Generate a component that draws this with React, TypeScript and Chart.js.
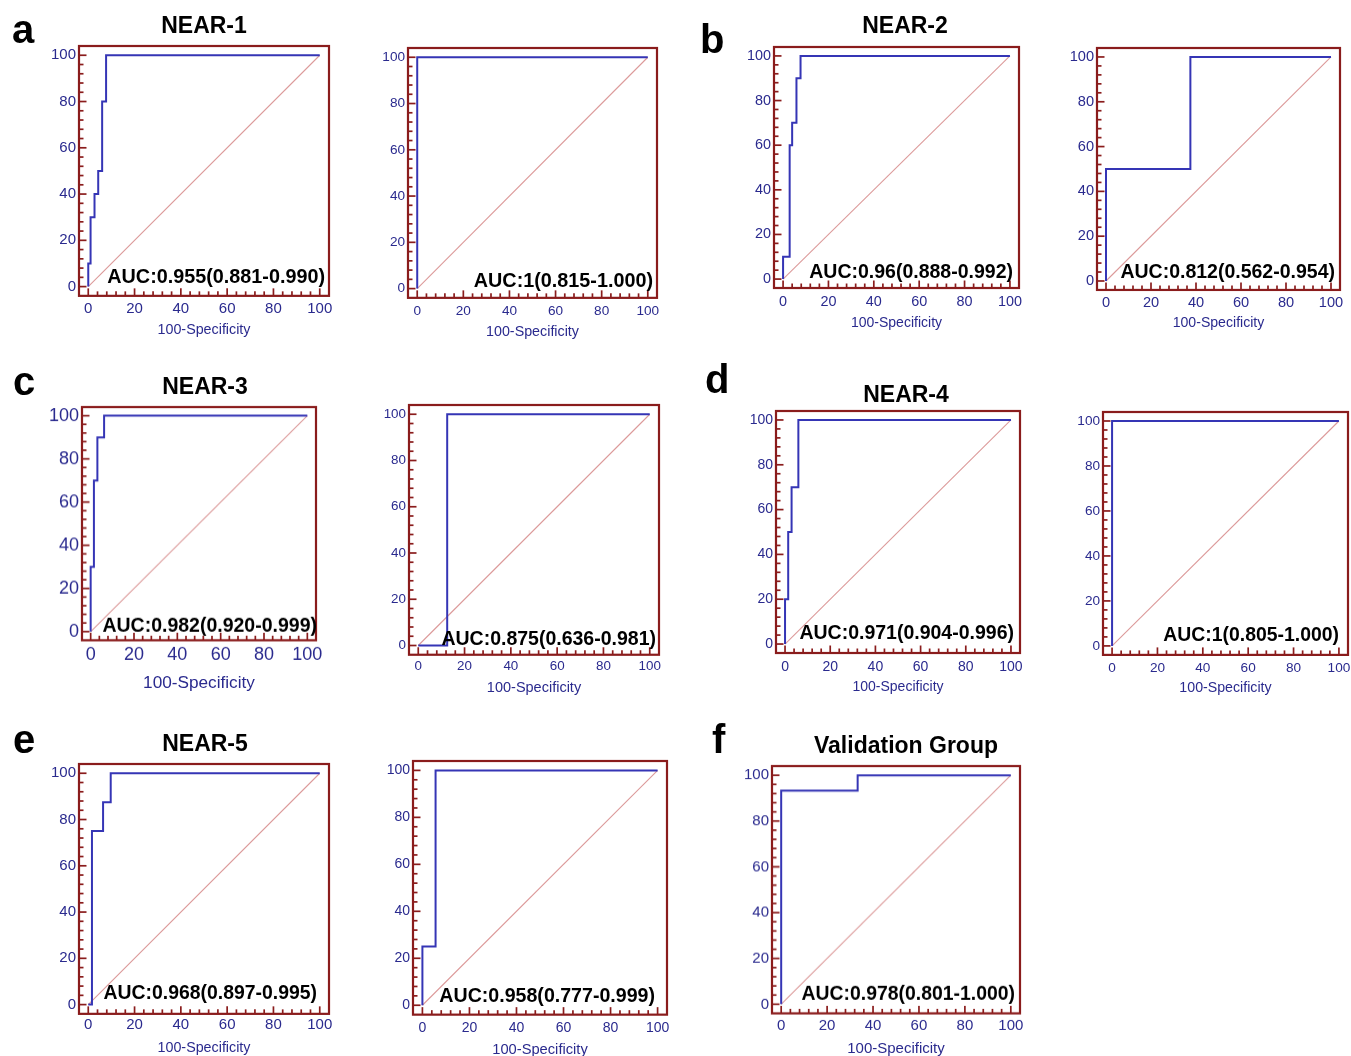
import React, { useEffect, useRef } from 'react';
import { Chart, registerables } from 'chart.js';

Chart.register(...registerables);

// ---------- shared values ----------
const tickValues = [0, 20, 40, 60, 80, 100];
const minorStep = 4;
const axisTitle = '100-Specificity';
const diagonalFpr = [0, 100];
const diagonalSens = [0, 100];

// ---------- ROC operating points (100-Specificity, Sensitivity) ----------
const near1TrainFpr = [0, 0, 1.0, 2.7, 4.3, 6.0, 7.7, 100];
const near1TrainSens = [0, 10, 30, 40, 50, 80, 100, 100];
const near1TestFpr = [0, 0, 100];
const near1TestSens = [0, 100, 100];

const near2TrainFpr = [0, 0, 2.9, 4.0, 5.9, 7.7, 100];
const near2TrainSens = [0, 10, 60, 70, 90, 100, 100];
const near2TestFpr = [0, 0, 37.5, 100];
const near2TestSens = [0, 50, 100, 100];

const near3TrainFpr = [0, 0, 1.5, 3.1, 6.2, 100];
const near3TrainSens = [0, 30, 70, 90, 100, 100];
const near3TestFpr = [0, 12.5, 100];
const near3TestSens = [0, 100, 100];

const near4TrainFpr = [0, 0, 1.4, 2.9, 5.9, 100];
const near4TrainSens = [0, 20, 50, 70, 100, 100];
const near4TestFpr = [0, 0, 100];
const near4TestSens = [0, 100, 100];

const near5TrainFpr = [0, 1.6, 6.4, 9.7, 100];
const near5TrainSens = [0, 75, 87.5, 100, 100];
const near5TestFpr = [0, 0, 5.6, 100];
const near5TestSens = [0, 25, 100, 100];

const validationFpr = [0, 0, 33.3, 100];
const validationSens = [0, 93.3, 100, 100];

const aucLabels = [
  'AUC:0.955(0.881-0.990)',
  'AUC:1(0.815-1.000)',
  'AUC:0.96(0.888-0.992)',
  'AUC:0.812(0.562-0.954)',
  'AUC:0.982(0.920-0.999)',
  'AUC:0.875(0.636-0.981)',
  'AUC:0.971(0.904-0.996)',
  'AUC:1(0.805-1.000)',
  'AUC:0.968(0.897-0.995)',
  'AUC:0.958(0.777-0.999)',
  'AUC:0.978(0.801-1.000)',
];

const panelTitles = ['NEAR-1', 'NEAR-2', 'NEAR-3', 'NEAR-4', 'NEAR-5', 'Validation Group'];
const panelLetters = ['a', 'b', 'c', 'd', 'e', 'f'];

// ---------- styles ----------
const FONT = '"Liberation Sans", Arial, Helvetica, sans-serif';
const NAVY = '#2a2a8e';
const ROC_BLUE = '#3535b5';
const FRAME_RED = '#8a1c1c';
const DIAG_PINK = '#dc9a9a';
const Y_AXIS_W = 60;
const PAD_TOP = 12;
const PAD_RIGHT = 20;

type PanelSpec = {
  fpr: number[]; sens: number[]; auc: string;
  L: number; T: number; R: number; B: number;
  tick: number; xLab: number; ttl: number; tOff: number;
  aucSize: number; dx: number; dy: number;
};

const panels: PanelSpec[] = [
  { fpr: near1TrainFpr, sens: near1TrainSens, auc: aucLabels[0], L: 79, T: 46, R: 329, B: 296, tick: 15, xLab: 13, ttl: 14.3, tOff: 34, aucSize: 19.8, dx: -4, dy: -13 },
  { fpr: near1TestFpr, sens: near1TestSens, auc: aucLabels[1], L: 408, T: 48, R: 657, B: 298, tick: 13.6, xLab: 13, ttl: 14.3, tOff: 34, aucSize: 19.8, dx: -4, dy: -11 },
  { fpr: near2TrainFpr, sens: near2TrainSens, auc: aucLabels[2], L: 774, T: 47, R: 1019, B: 288, tick: 14.4, xLab: 14, ttl: 14, tOff: 35, aucSize: 19.5, dx: -6, dy: -10 },
  { fpr: near2TestFpr, sens: near2TestSens, auc: aucLabels[3], L: 1097, T: 48, R: 1340, B: 290, tick: 14.6, xLab: 13, ttl: 14.1, tOff: 33, aucSize: 19.5, dx: -5, dy: -12 },
  { fpr: near3TrainFpr, sens: near3TrainSens, auc: aucLabels[4], L: 82, T: 407, R: 316, B: 640, tick: 18, xLab: 15, ttl: 17.2, tOff: 43, aucSize: 19.5, dx: 1, dy: -8 },
  { fpr: near3TestFpr, sens: near3TestSens, auc: aucLabels[5], L: 409, T: 405, R: 659, B: 655, tick: 13.4, xLab: 12, ttl: 14.5, tOff: 33, aucSize: 19.5, dx: -3, dy: -10 },
  { fpr: near4TrainFpr, sens: near4TrainSens, auc: aucLabels[6], L: 776, T: 411, R: 1020, B: 653, tick: 14, xLab: 14, ttl: 14, tOff: 34, aucSize: 19.5, dx: -6, dy: -14 },
  { fpr: near4TestFpr, sens: near4TestSens, auc: aucLabels[7], L: 1103, T: 412, R: 1348, B: 655, tick: 13.6, xLab: 13, ttl: 14.2, tOff: 33, aucSize: 19.4, dx: -9, dy: -14 },
  { fpr: near5TrainFpr, sens: near5TrainSens, auc: aucLabels[8], L: 79, T: 764, R: 329, B: 1014, tick: 15, xLab: 11, ttl: 14.3, tOff: 34, aucSize: 19.4, dx: -12, dy: -15 },
  { fpr: near5TestFpr, sens: near5TestSens, auc: aucLabels[9], L: 413, T: 761, R: 667, B: 1015, tick: 14, xLab: 13, ttl: 14.7, tOff: 35, aucSize: 19.6, dx: -12, dy: -13 },
  { fpr: validationFpr, sens: validationSens, auc: aucLabels[10], L: 772, T: 766, R: 1020, B: 1013, tick: 15, xLab: 12, ttl: 15, tOff: 35, aucSize: 19.4, dx: -5, dy: -14 },
];

const titleLayout = [
  { cx: 204, base: 33 },
  { cx: 905, base: 33 },
  { cx: 205, base: 394 },
  { cx: 906, base: 402 },
  { cx: 205, base: 751 },
  { cx: 906, base: 753 },
];
const letterLayout = [
  { x: 12, base: 43 },
  { x: 700, base: 53 },
  { x: 13, base: 395 },
  { x: 705, base: 393 },
  { x: 13, base: 753 },
  { x: 712, base: 753 },
];

const rocPlugin = {
  id: 'rocFrame',
  afterDraw(chart: any, _args: any, opts: any) {
    const { ctx, chartArea: a, scales } = chart;
    const xs = scales.x;
    const ys = scales.y;
    ctx.save();
    ctx.strokeStyle = FRAME_RED;
    ctx.lineWidth = 1.7;
    for (let v = 0; v <= 100; v += minorStep) {
      const major = v % 20 === 0;
      const len = major ? 7.5 : 4.5;
      const px = xs.getPixelForValue(v);
      ctx.beginPath();
      ctx.moveTo(px, a.bottom);
      ctx.lineTo(px, a.bottom - len);
      ctx.stroke();
      const py = ys.getPixelForValue(v);
      ctx.beginPath();
      ctx.moveTo(a.left, py);
      ctx.lineTo(a.left + len, py);
      ctx.stroke();
    }
    ctx.lineWidth = 2.2;
    ctx.strokeRect(a.left, a.top, a.right - a.left, a.bottom - a.top);
    ctx.fillStyle = '#000';
    ctx.font = `bold ${opts.size}px ${FONT}`;
    ctx.textAlign = 'right';
    ctx.textBaseline = 'alphabetic';
    ctx.fillText(opts.text, a.right + opts.dx, a.bottom + opts.dy);
    ctx.restore();
  },
};

function RocPanel({ p }: { p: PanelSpec }) {
  const ref = useRef<HTMLCanvasElement>(null);
  const xH = p.tOff + p.ttl / 2;
  const w = p.R - p.L + Y_AXIS_W + PAD_RIGHT;
  const h = p.B - p.T + PAD_TOP + xH;
  useEffect(() => {
    const canvas = ref.current;
    if (!canvas) return;
    const chart = new Chart(canvas, {
      type: 'line',
      data: {
        datasets: [
          {
            data: p.fpr.map((x, i) => ({ x, y: p.sens[i] })),
            borderColor: ROC_BLUE,
            borderWidth: 2,
            pointRadius: 0,
            stepped: 'before',
            fill: false,
          },
          {
            data: diagonalFpr.map((x, i) => ({ x, y: diagonalSens[i] })),
            borderColor: DIAG_PINK,
            borderWidth: 1.1,
            pointRadius: 0,
            fill: false,
          },
        ],
      },
      options: {
        responsive: false,
        animation: false,
        devicePixelRatio: 1,
        layout: { padding: { left: 0, top: PAD_TOP, right: PAD_RIGHT, bottom: 0 } },
        plugins: {
          legend: { display: false },
          tooltip: { enabled: false },
          rocFrame: { text: p.auc, size: p.aucSize, dx: p.dx, dy: p.dy },
        } as any,
        scales: {
          x: {
            type: 'linear',
            min: -4,
            max: 104,
            afterBuildTicks: (s: any) => { s.ticks = tickValues.map((v) => ({ value: v })); },
            afterFit: (s: any) => { s.height = xH; },
            grid: { display: false, drawTicks: false },
            border: { display: false },
            ticks: {
              color: NAVY,
              padding: p.xLab - p.tick / 2,
              autoSkip: false,
              maxRotation: 0,
              font: { family: FONT, size: p.tick, lineHeight: 1 },
            },
            title: {
              display: true,
              text: axisTitle,
              color: NAVY,
              padding: 0,
              font: { family: FONT, size: p.ttl, lineHeight: 1 },
            },
          },
          y: {
            type: 'linear',
            min: -4,
            max: 104,
            afterBuildTicks: (s: any) => { s.ticks = tickValues.map((v) => ({ value: v })); },
            afterFit: (s: any) => { s.width = Y_AXIS_W; },
            grid: { display: false, drawTicks: false },
            border: { display: false },
            ticks: {
              color: NAVY,
              padding: 3,
              autoSkip: false,
              font: { family: FONT, size: p.tick, lineHeight: 1 },
            },
          },
        },
      } as any,
      plugins: [rocPlugin],
    });
    return () => chart.destroy();
  }, [p]);
  return (
    <canvas
      ref={ref}
      width={w}
      height={h}
      style={{ position: 'absolute', left: p.L - Y_AXIS_W, top: p.T - PAD_TOP, width: w, height: h }}
    />
  );
}

export default function App() {
  const letterSize = 40;
  const titleSize = 23;
  return (
    <div
      style={{
        position: 'absolute', left: 0, top: 0, width: 1351, height: 1056,
        overflow: 'hidden', background: '#fff', fontFamily: FONT,
      }}
    >
      {panels.map((p, i) => <RocPanel key={i} p={p} />)}
      {panelTitles.map((t, i) => (
        <div
          key={'t' + i}
          style={{
            position: 'absolute', left: titleLayout[i].cx, top: titleLayout[i].base - 0.8465 * titleSize,
            transform: 'translateX(-50%)', fontSize: titleSize, lineHeight: 1, fontWeight: 'bold',
            color: '#000', whiteSpace: 'nowrap',
          }}
        >
          {t}
        </div>
      ))}
      {panelLetters.map((t, i) => (
        <div
          key={'l' + i}
          style={{
            position: 'absolute', left: letterLayout[i].x, top: letterLayout[i].base - 0.8465 * letterSize,
            fontSize: letterSize, lineHeight: 1, fontWeight: 'bold', color: '#000',
          }}
        >
          {t}
        </div>
      ))}
    </div>
  );
}
